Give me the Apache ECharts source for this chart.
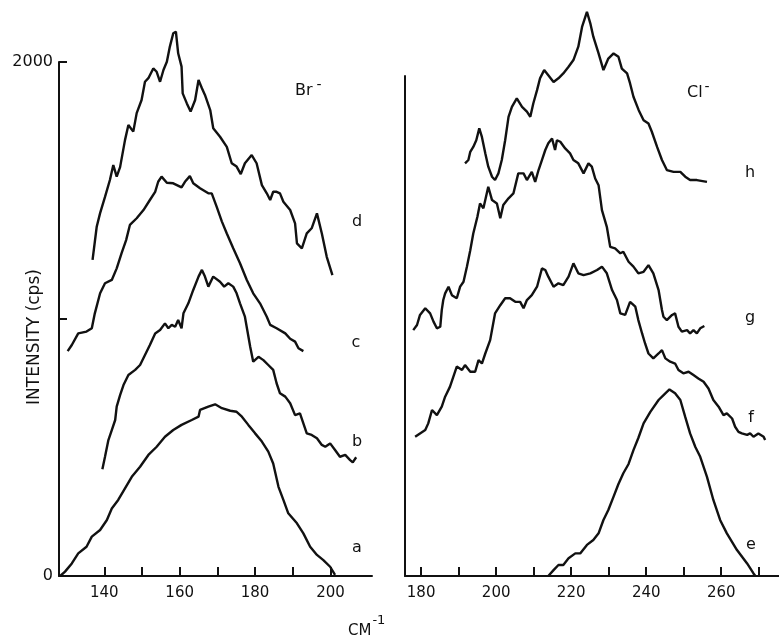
<!DOCTYPE html>
<html>
<head>
<meta charset="utf-8">
<script src="https://cdn.jsdelivr.net/npm/echarts@6/dist/echarts.min.js"></script>
<style>
  html, body { margin: 0; padding: 0; background: #fff; }
  #chart { width: 779px; height: 637px; }
</style>
</head>
<body>
<div id="chart"></div>
<script>
  // Br- spectra (left panel), [cm-1, cps]
  var curveA = [[128.3,0],[129.6,17],[131.4,49],[133.1,88],[135.3,114],[136.7,153],[138.9,179],[140.7,218],[142.0,263],[143.7,296],[145.5,341],[147.3,386],[149.5,425],[151.7,471],[153.9,503],[156.1,542],[158.3,568],[160.5,588],[163.2,607],[165.0,620],[165.4,646],[167.6,659],[169.4,668],[171.2,653],[173.4,643],[175.1,639],[176.5,620],[178.2,588],[180.0,555],[181.8,523],[183.5,484],[184.8,438],[186.2,347],[187.5,296],[188.8,244],[191.1,205],[192.8,166],[194.6,114],[196.4,82],[198.1,62],[199.9,36],[201.2,4]];
  var curveB = [[139.5,415],[140.2,464],[141.1,529],[142.0,568],[142.9,607],[143.3,659],[144.2,704],[145.1,743],[146.4,782],[148.2,802],[149.5,821],[150.8,860],[152.1,899],[153.5,944],[154.8,957],[156.1,983],[157.0,964],[157.9,977],[158.8,970],[159.6,996],[160.5,964],[161.0,1022],[162.3,1061],[163.6,1113],[165.0,1165],[165.9,1191],[166.7,1165],[167.6,1126],[168.9,1165],[170.7,1145],[171.8,1126],[172.9,1139],[174.2,1126],[175.1,1100],[176.0,1061],[177.3,1009],[178.7,892],[179.5,834],[180.9,853],[182.2,840],[183.5,821],[184.8,802],[185.7,750],[186.6,711],[188.0,698],[189.3,672],[190.6,626],[191.9,633],[192.8,594],[193.7,555],[195.0,549],[196.4,536],[197.7,510],[198.6,503],[199.9,516],[201.2,490],[202.5,464],[203.9,471],[205.2,451],[205.9,442],[206.8,462]];
  var curveC = [[130.3,875],[131.4,899],[133.1,944],[135.3,951],[136.7,964],[137.5,1022],[138.9,1100],[140.2,1139],[142.0,1152],[143.3,1197],[144.6,1256],[145.8,1307],[146.8,1366],[148.6,1392],[150.4,1424],[152.1,1463],[153.5,1495],[154.3,1534],[155.2,1554],[156.6,1530],[158.3,1528],[160.5,1512],[161.4,1534],[162.7,1556],[163.6,1528],[165.4,1509],[167.6,1489],[168.5,1489],[169.8,1437],[171.2,1379],[172.5,1333],[174.2,1275],[176.0,1217],[177.8,1152],[179.5,1100],[181.3,1061],[183.1,1009],[184.0,977],[185.7,964],[188.0,944],[189.3,923],[190.6,912],[191.5,886],[192.8,875]];
  var curveD = [[136.9,1230],[138.0,1359],[138.9,1412],[140.2,1475],[141.5,1541],[142.4,1599],[143.3,1554],[144.2,1591],[145.5,1696],[146.4,1755],[147.7,1729],[148.6,1801],[149.9,1852],[150.8,1923],[151.7,1937],[153.0,1975],[153.9,1962],[154.8,1923],[155.7,1969],[156.6,2001],[157.4,2060],[158.3,2112],[159.0,2118],[159.6,2034],[160.5,1982],[160.8,1878],[161.9,1839],[162.9,1807],[164.1,1852],[165.0,1930],[165.9,1898],[166.7,1872],[168.1,1813],[168.9,1742],[170.7,1709],[172.5,1670],[173.8,1606],[175.1,1593],[176.2,1564],[177.3,1606],[179.1,1638],[180.4,1606],[181.8,1521],[183.1,1489],[184.0,1463],[184.8,1495],[185.7,1495],[186.6,1489],[187.5,1456],[189.3,1424],[190.6,1372],[191.1,1294],[192.4,1275],[193.7,1333],[195.0,1353],[196.4,1411],[197.7,1333],[199.0,1242],[200.5,1171]];

  // Cl- spectra (right panel), [cm-1, cps]
  var curveE = [[213.9,0],[215.3,23],[216.6,43],[217.9,43],[219.3,69],[221.1,88],[222.4,88],[224.2,121],[225.9,140],[227.3,166],[228.6,218],[229.9,257],[231.3,309],[232.6,358],[233.9,400],[235.3,436],[236.6,490],[237.9,537],[239.3,594],[241.1,639],[243.3,685],[245.1,711],[246.2,726],[247.7,711],[249.1,685],[250.4,619],[251.7,555],[253.1,502],[254.4,464],[256.2,386],[257.9,296],[259.7,218],[261.5,166],[264.2,101],[266.9,49],[268.6,10],[269.1,0]];
  var curveF = [[178.4,542],[179.7,555],[181.1,568],[181.9,594],[182.9,646],[184.2,626],[185.5,659],[186.4,698],[187.7,737],[188.6,776],[189.5,815],[190.9,802],[191.7,821],[193.1,795],[194.4,795],[195.3,840],[196.2,827],[197.1,866],[198.4,918],[199.7,1022],[201.1,1054],[202.4,1081],[203.7,1081],[205.1,1067],[206.4,1067],[207.3,1042],[208.2,1074],[209.5,1093],[210.9,1126],[212.2,1197],[213.1,1191],[213.9,1165],[215.3,1126],[216.6,1139],[217.9,1132],[219.3,1165],[220.6,1217],[221.9,1178],[223.3,1171],[225.1,1178],[226.9,1191],[228.2,1204],[229.5,1178],[230.9,1113],[232.2,1074],[233.1,1022],[234.4,1016],[235.7,1067],[237.1,1048],[237.9,996],[238.9,944],[239.7,905],[240.6,866],[241.9,847],[243.3,866],[244.2,879],[245.1,847],[246.4,834],[247.7,827],[248.6,802],[249.9,789],[251.3,795],[252.6,782],[253.9,769],[255.3,756],[256.6,730],[257.9,685],[259.3,659],[260.6,626],[261.5,633],[262.9,613],[263.7,581],[264.6,561],[265.5,555],[266.9,549],[267.7,555],[268.6,542],[269.9,555],[271.3,542],[271.7,529]];
  var curveG = [[177.9,957],[178.9,977],[179.7,1016],[181.1,1042],[182.4,1022],[183.3,990],[184.2,964],[185.1,970],[185.5,1035],[185.9,1074],[186.4,1100],[187.3,1126],[188.2,1093],[189.5,1081],[190.4,1126],[191.3,1145],[192.2,1204],[193.1,1268],[193.9,1333],[195.0,1398],[195.7,1450],[196.6,1431],[197.9,1515],[198.9,1463],[200.2,1450],[201.1,1392],[201.9,1444],[203.3,1470],[204.6,1489],[205.9,1567],[207.3,1567],[208.2,1541],[209.5,1573],[210.4,1534],[211.3,1580],[212.2,1619],[213.1,1658],[213.9,1684],[214.9,1703],[215.7,1658],[216.2,1696],[217.1,1690],[218.4,1664],[219.7,1645],[220.6,1619],[221.9,1606],[223.3,1567],[224.6,1606],[225.5,1593],[226.4,1547],[227.3,1521],[228.2,1424],[229.5,1359],[230.4,1281],[231.7,1275],[233.1,1256],[233.9,1262],[235.3,1223],[236.6,1204],[237.9,1178],[239.3,1184],[240.6,1210],[241.9,1178],[243.3,1113],[244.2,1035],[244.6,1009],[245.5,996],[246.9,1016],[247.7,1022],[248.6,970],[249.5,951],[250.9,957],[251.7,944],[252.6,957],[253.5,944],[254.4,964],[255.5,973]];
  var curveH = [[191.7,1606],[192.6,1619],[193.1,1651],[193.9,1670],[194.7,1696],[195.5,1742],[196.2,1709],[197.1,1645],[197.9,1593],[198.9,1554],[199.7,1541],[200.6,1567],[201.5,1619],[202.4,1696],[203.3,1787],[204.2,1826],[205.5,1859],[206.9,1826],[208.2,1807],[209.1,1787],[209.9,1839],[210.9,1891],[211.7,1937],[212.8,1969],[213.9,1949],[215.3,1923],[216.6,1937],[217.9,1956],[219.3,1982],[220.6,2008],[221.9,2060],[222.9,2137],[224.2,2196],[225.1,2151],[225.9,2099],[227.3,2034],[228.6,1969],[229.9,2014],[231.3,2034],[232.6,2021],[233.5,1975],[234.9,1956],[235.7,1917],[236.6,1865],[238.0,1813],[239.3,1774],[240.6,1761],[241.5,1729],[242.9,1670],[244.2,1619],[245.5,1580],[247.3,1573],[249.1,1573],[250.4,1554],[251.7,1541],[253.5,1541],[256.2,1534]];

  var leftTicks = [140, 150, 160, 170, 180, 190, 200];
  var leftLabels = [140, 160, 180, 200];
  var rightTicks = [180, 190, 200, 210, 220, 230, 240, 250, 260, 270];
  var rightLabels = [180, 200, 220, 240, 260];

  var ink = '#111';
  var font = 'DejaVu Sans';

  function xAxisFor(idx, min, max, ticks, labels) {
    return {
      type: 'value', gridIndex: idx, min: min, max: max,
      splitLine: { show: false },
      axisLine: { lineStyle: { color: ink, width: 2 } },
      axisTick: { inside: true, length: 9, customValues: ticks, lineStyle: { color: ink, width: 2 } },
      axisLabel: { customValues: labels, color: ink, fontSize: 15, fontFamily: font, margin: 10 }
    };
  }

  function spectrum(data, idx) {
    return {
      type: 'line', xAxisIndex: idx, yAxisIndex: idx, data: data,
      showSymbol: false, clip: false, silent: true,
      lineStyle: { color: ink, width: 2.4 }
    };
  }

  function letter(txt, x, y) {
    return { type: 'text', x: x, y: y, style: { text: txt, fill: ink, font: '16px ' + font, textAlign: 'center', textVerticalAlign: 'middle' } };
  }

  var chart = echarts.init(document.getElementById('chart'));
  chart.setOption({
    backgroundColor: '#fff',
    animation: false,
    grid: [
      { left: 59, top: 62, width: 313, height: 514 },
      { left: 405, top: 76, width: 374, height: 500 }
    ],
    xAxis: [
      xAxisFor(0, 128, 211, leftTicks, leftLabels),
      xAxisFor(1, 175.7, 275.4, rightTicks, rightLabels)
    ],
    yAxis: [
      {
        type: 'value', gridIndex: 0, min: 0, max: 2000, interval: 1000,
        splitLine: { show: false },
        axisLine: { lineStyle: { color: ink, width: 2 } },
        axisTick: { inside: true, length: 8, lineStyle: { color: ink, width: 2 } },
        axisLabel: {
          color: ink, fontSize: 16, fontFamily: font, margin: 6,
          formatter: function (v) { return v === 1000 ? '' : String(v); }
        }
      },
      {
        type: 'value', gridIndex: 1, min: 0, max: 1946,
        splitLine: { show: false },
        axisLine: { lineStyle: { color: ink, width: 2 } },
        axisTick: { show: false },
        axisLabel: { show: false }
      }
    ],
    series: [
      spectrum(curveA, 0), spectrum(curveB, 0), spectrum(curveC, 0), spectrum(curveD, 0),
      spectrum(curveE, 1), spectrum(curveF, 1), spectrum(curveG, 1), spectrum(curveH, 1)
    ],
    graphic: [
      {
        type: 'text', x: 35, y: 337, rotation: Math.PI / 2,
        style: { text: 'INTENSITY (cps)', fill: ink, font: '17px ' + font, textAlign: 'center', textVerticalAlign: 'middle' }
      },
      {
        type: 'text', x: 348, y: 631,
        style: {
          text: '{m|CM}{s|-1}', textVerticalAlign: 'middle',
          rich: {
            m: { fill: ink, font: '15px ' + font },
            s: { fill: ink, font: '13px ' + font, padding: [0, 0, 20, 1] }
          }
        }
      },
      {
        type: 'text', x: 295, y: 91,
        style: {
          text: '{m|Br}{s|-}', textVerticalAlign: 'middle',
          rich: {
            m: { fill: ink, font: '16px ' + font },
            s: { fill: ink, font: '14px ' + font, padding: [0, 0, 12, 4] }
          }
        }
      },
      {
        type: 'text', x: 687, y: 93,
        style: {
          text: '{m|Cl}{s|-}', textVerticalAlign: 'middle',
          rich: {
            m: { fill: ink, font: '16px ' + font },
            s: { fill: ink, font: '14px ' + font, padding: [0, 0, 12, 2] }
          }
        }
      },
      letter('d', 357, 222), letter('c', 356, 343), letter('b', 357, 442), letter('a', 357, 548),
      letter('h', 750, 173), letter('g', 750, 318), letter('f', 751, 418), letter('e', 751, 545)
    ]
  });
</script>
</body>
</html>
